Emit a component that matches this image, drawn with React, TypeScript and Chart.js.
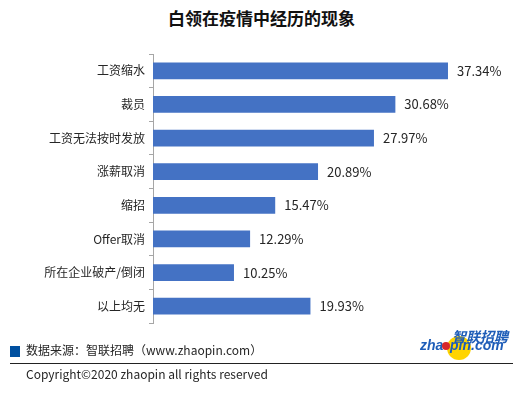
import React, { useEffect, useRef } from "react";
import { Chart, registerables } from "chart.js";

Chart.register(...registerables);

const categories = ["工资缩水", "裁员", "工资无法按时发放", "涨薪取消", "缩招", "Offer取消", "所在企业破产/倒闭", "以上均无"];
const values = [37.34, 30.68, 27.97, 20.89, 15.47, 12.29, 10.25, 19.93];
const title = "白领在疫情中经历的现象";
const sourceText = "数据来源：智联招聘（www.zhaopin.com）";
const copyrightText = "Copyright©2020 zhaopin all rights reserved";
const logoCn = "智联招聘";
const logoEnA = "zha";
const logoEnB = "pin.com";

const FONT = "'Noto Sans CJK SC', 'Noto Sans', sans-serif";

const labelPlugin = {
  id: "barLabels",
  afterDatasetsDraw(chart: any) {
    const ctx = chart.ctx;
    const meta = chart.getDatasetMeta(0);
    ctx.save();
    ctx.font = `13px ${FONT}`;
    ctx.fillStyle = "#262626";
    ctx.textAlign = "left";
    ctx.textBaseline = "middle";
    meta.data.forEach((bar: any, i: number) => {
      ctx.fillText(values[i].toFixed(2) + "%", bar.x + 9, bar.y);
    });
    ctx.restore();
  },
};

const logoPlugin = {
  id: "logo",
  afterDraw(chart: any) {
    const ctx = chart.ctx;
    ctx.save();
    // yellow disc
    ctx.fillStyle = "#FFD400";
    ctx.beginPath();
    ctx.arc(459, 348, 12, 0, Math.PI * 2);
    ctx.fill();
    ctx.fillStyle = "#1E5DB8";
    ctx.textBaseline = "alphabetic";
    ctx.textAlign = "left";
    ctx.font = `italic bold 14px ${FONT}`;
    ctx.fillText(logoCn, 452, 342);
    ctx.font = "italic bold 14px 'Liberation Sans', sans-serif";
    ctx.fillText(logoEnA, 420, 350);
    ctx.fillText(logoEnB, 450, 350);
    ctx.fillStyle = "#D7262B";
    ctx.beginPath();
    ctx.arc(446, 346, 4, 0, Math.PI * 2);
    ctx.fill();
    ctx.restore();
  },
};

export default function App() {
  const ref = useRef<HTMLCanvasElement>(null);
  useEffect(() => {
    if (!ref.current) return;
    const chart = new Chart(ref.current, {
      type: "bar",
      data: {
        labels: categories,
        datasets: [
          {
            data: values,
            backgroundColor: "#4472C4",
            barPercentage: 0.5,
            categoryPercentage: 1,
          },
        ],
      },
      options: {
        indexAxis: "y",
        animation: false,
        responsive: false,
        layout: { padding: { top: 54, bottom: 70, right: 58, left: 0 } },
        plugins: { legend: { display: false }, tooltip: { enabled: false } },
        scales: {
          x: { display: false, min: 0, max: 40 },
          y: {
            afterFit(scale: any) {
              scale.width = 153;
            },
            grid: { drawOnChartArea: false, color: "#a6a6a6", tickLength: 4, offset: true },
            border: { display: true, color: "#a6a6a6" },
            ticks: { color: "#262626", font: { size: 12, family: FONT }, padding: 4 },
          },
        },
      },
      plugins: [labelPlugin, logoPlugin],
    });
    return () => chart.destroy();
  }, []);

  return (
    <div style={{ position: "fixed", left: 0, top: 0, width: 527, height: 393, background: "#fff", fontFamily: FONT }}>
      <div style={{ position: "absolute", left: 0, top: 6, width: 523, textAlign: "center", fontSize: 17, fontWeight: "bold", color: "#111", lineHeight: "24px" }}>
        {title}
      </div>
      <canvas ref={ref} width={527} height={393} style={{ position: "absolute", left: 0, top: 0 }} />
      <div style={{ position: "absolute", left: 10, top: 346, width: 10, height: 11, background: "#0050A0" }} />
      <div style={{ position: "absolute", left: 26, top: 341, fontSize: 12, color: "#262626", lineHeight: "18px", whiteSpace: "nowrap" }}>
        {sourceText}
      </div>
      <div style={{ position: "absolute", left: 10, top: 363, width: 503, height: 1, background: "#222" }} />
      <div style={{ position: "absolute", left: 26, top: 365, fontSize: 12, color: "#262626", lineHeight: "18px", whiteSpace: "nowrap" }}>
        {copyrightText}
      </div>
    </div>
  );
}
